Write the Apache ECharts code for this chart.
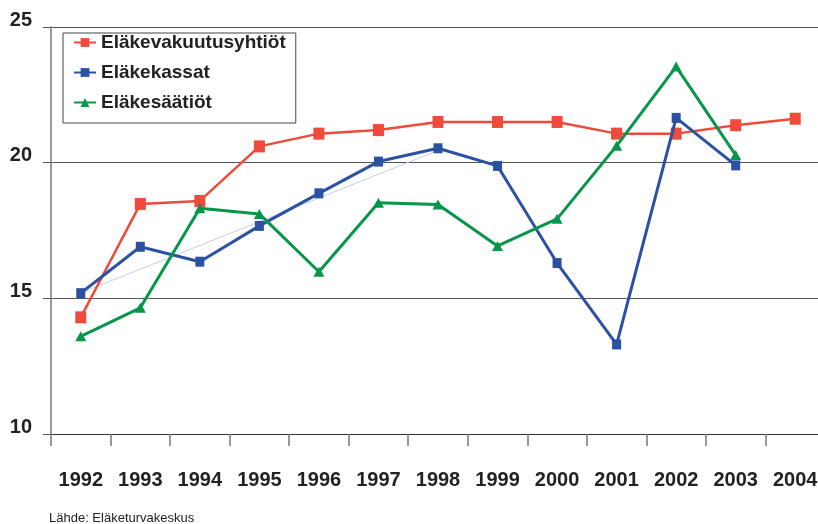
<!DOCTYPE html>
<html>
<head>
<meta charset="utf-8">
<script src="https://cdn.jsdelivr.net/npm/echarts@6/dist/echarts.min.js"></script>
<style>
  html, body { margin: 0; padding: 0; background: #fff; overflow: hidden; }
  #chart { width: 825px; height: 524px; }
</style>
</head>
<body>
<div id="chart"></div>
<script>
var years = ['1992', '1993', '1994', '1995', '1996', '1997', '1998', '1999', '2000', '2001', '2002', '2003', '2004'];
var vakuutusyhtiot = [14.3, 18.48, 18.59, 20.6, 21.07, 21.2, 21.5, 21.5, 21.5, 21.07, 21.07, 21.38, 21.62];
var kassat = [15.19, 16.9, 16.35, 17.67, 18.87, 20.04, 20.53, 19.88, 16.3, 13.3, 21.65, 19.9, null];
var saatiot = [13.6, 14.65, 18.32, 18.11, 15.98, 18.52, 18.46, 16.93, 17.93, 20.62, 23.54, 20.28, null];
// ohut trendiviiva 1992-1998
var trendi = [15.2, null, null, null, null, null, 20.45, null, null, null, null, null, null];
var yTicks = [10, 15, 20, 25];

var myChart = echarts.init(document.getElementById('chart'));
var option = {
    animation: false,
    backgroundColor: '#ffffff',
    title: {
        text: 'Lähde: Eläketurvakeskus',
        left: 49,
        top: 512,
        padding: 0,
        textStyle: { fontFamily: 'Liberation Sans', fontSize: 13, fontWeight: 'normal', color: '#222' }
    },
    legend: {
        left: 63,
        top: 33,
        orient: 'vertical',
        width: 234,
        padding: [0, 10, 11, 10],
        itemGap: 11,
        itemWidth: 22,
        itemHeight: 11,
        borderColor: '#444',
        borderWidth: 1,
        backgroundColor: '#fff',
        data: ['Eläkevakuutusyhtiöt', 'Eläkekassat', 'Eläkesäätiöt'],
        textStyle: { fontFamily: 'Liberation Sans', fontSize: 19, fontWeight: 'bold', color: '#222' }
    },
    grid: { left: 51, right: 0, top: 27, bottom: 90, containLabel: false },
    xAxis: {
        type: 'category',
        data: years,
        boundaryGap: true,
        axisLine: { lineStyle: { color: '#333', width: 1 } },
        axisTick: { show: true, interval: 0, length: 12, lineStyle: { color: '#777', width: 1.5 } },
        axisLabel: { interval: 0, margin: 36, fontFamily: 'Liberation Sans', fontSize: 20, fontWeight: 'bold', color: '#222' }
    },
    yAxis: {
        type: 'value',
        min: yTicks[0],
        max: yTicks[yTicks.length - 1],
        interval: 5,
        axisLine: { show: true, lineStyle: { color: '#999', width: 2 } },
        axisTick: { show: true, length: 8, lineStyle: { color: '#555', width: 1 } },
        splitLine: { lineStyle: { color: '#555', width: 1 } },
        axisLabel: { margin: 19, fontFamily: 'Liberation Sans', fontSize: 20, fontWeight: 'bold', color: '#222', verticalAlign: 'bottom', lineHeight: 14 }
    },
    series: [
        {
            name: 'trendi',
            type: 'line',
            data: trendi,
            connectNulls: true,
            symbol: 'none',
            silent: true,
            z: 1,
            lineStyle: { color: '#c5cde6', width: 1 }
        },
        {
            name: 'Eläkevakuutusyhtiöt',
            type: 'line',
            data: vakuutusyhtiot,
            symbol: 'rect',
            symbolSize: [11, 12],
            color: '#ef4a3b',
            lineStyle: { width: 2.5 },
            z: 2
        },
        {
            name: 'Eläkekassat',
            type: 'line',
            data: kassat,
            symbol: 'rect',
            symbolSize: [9, 10],
            color: '#2b51a5',
            lineStyle: { width: 3 },
            z: 3
        },
        {
            name: 'Eläkesäätiöt',
            type: 'line',
            data: saatiot,
            symbol: 'triangle',
            symbolSize: [11, 10],
            color: '#06964a',
            lineStyle: { width: 3 },
            z: 4
        }
    ]
};
myChart.setOption(option);
</script>
</body>
</html>
